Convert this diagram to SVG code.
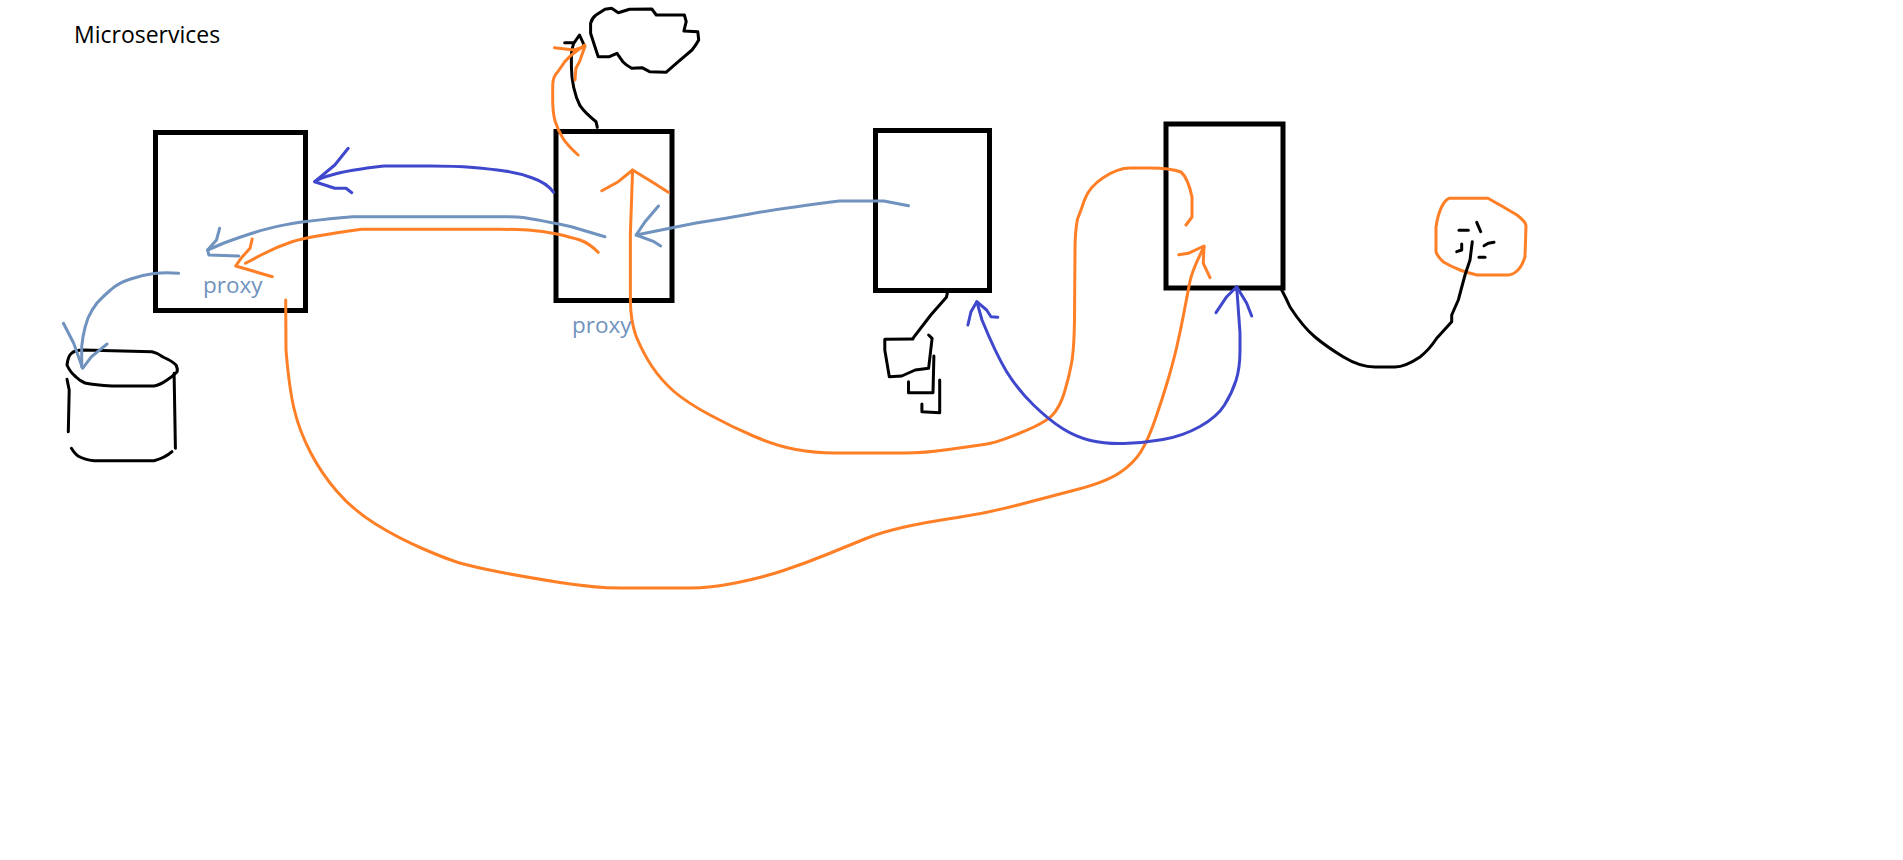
<svg xmlns="http://www.w3.org/2000/svg" width="1903" height="860" viewBox="0 0 1903 860">
<style>
.box{fill:none;stroke:#000;stroke-width:5}
.k,.o,.i,.s{fill:none;stroke-linecap:round;stroke-linejoin:round;stroke-width:3}
.k{stroke:#000}
.o{stroke:#ff7f27}
.i{stroke:#3f48cc}
.s{stroke:#7092be}
.t{font-family:"Open Sans","Noto Sans",sans-serif}
</style>
<rect width="1903" height="860" fill="#fff"/>
<text id="title" class="t" x="74" y="42.5" font-size="23" fill="#000">Microservices</text>
<g id="service-1"><rect class="box" x="155.5" y="132.5" width="150" height="178"/><text class="t" x="203" y="293" font-size="22.5" fill="#7092be">proxy</text></g>
<g id="service-2"><rect class="box" x="556" y="131.5" width="116" height="169"/><text class="t" x="572" y="333" font-size="22.5" fill="#7092be">proxy</text></g>
<g id="service-3"><rect class="box" x="875.5" y="130.5" width="114" height="160"/></g>
<g id="service-4"><rect class="box" x="1166" y="124" width="117" height="164"/></g>
<g id="cloud"><path class="k" d="M590.6 33.3 L590.6 23.3 Q592 18 596 15 L605 9.3 L611.6 8.3 L618.3 12.7 L629.5 9.3 L651.8 9 L656.3 15 L684.4 15 L686.2 21.7 L683.9 31 L697.8 31.7 L698.7 40 Q696 45 692 50 L676.3 63.3 L666 72.3 L649.6 71.7 L642 67.7 L631.7 68.3 Q626 65 622.8 61.7 L617 53.3 L609.4 56.7 L598.2 56.7 L593.8 43.3 Z"/></g>
<g id="database">
<path class="k" d="M67 365 Q68 356 71.4 353.3 Q75 350 83 350 L152 351.7 Q158 353 163 357 Q172 361 176 365 Q178 369 177 372 Q172 377 167 380 Q160 385 154 386 L112 386 Q95 385 85 383 Q80 381 76 377 Q70 372 67 365 Z"/>
<path class="k" d="M67 379.3 L69.2 390 L68.3 431.7"/>
<path class="k" d="M174.1 373.3 L175.4 448.3"/>
<path class="k" d="M71.4 448.3 Q75 454 78 456 Q85 460 94 460.7 L154 460.7 Q165 458 172 451.7"/>
</g>
<g id="documents">
<path class="k" d="M912.9 339 L884.8 339.3 L884.8 350 L889.3 376.7 L901.8 376 L915.2 370 L928.6 368.3 L932.1 338.3 L928.6 335"/>
<path class="k" d="M933.9 356 L933 392.7 L908.5 392.7 L908.5 381.7"/>
<path class="k" d="M939.7 380 L939.7 412.7 L921.9 411.7 L921.9 404"/>
</g>
<g id="client">
<path class="o" d="M1449 198.3 L1488 198.3 Q1496 203 1503 206.7 L1517 215 Q1526 222 1526 226 L1525 256.7 Q1522 266 1518 270 Q1513 275 1508 275 L1477 275 Q1468 273 1460 270 Q1450 266 1443 261.7 Q1437 256 1436 251.7 L1436 226.7 Q1438 214 1441.7 206.7 Q1445 200 1449 198.3 Z"/>
<path class="k" d="M1459 230.3 L1468.3 230.3"/>
<path class="k" d="M1476.7 222.3 L1480.7 231.7"/>
<path class="k" d="M1484 245.7 L1488.3 243.3 L1494 242.3"/>
<path class="k" d="M1479 257.3 L1485 257.3"/>
<path class="k" d="M1461.7 244 L1461.7 250 L1456.7 251.7"/>
</g>
<g id="connectors">
<path class="k" d="M597.3 127.3 L596 121.7 Q585 113 580 105.7 Q576 98 573.7 87.5 Q571.4 77 571.4 66.7 L571.4 56.7 Q571 50 573.7 43.3 L579.5 35 L584.8 46.7"/>
<path class="k" d="M564.7 42.7 L573.7 42.7"/>
<path class="o" d="M578.1 155 Q567 145 562.5 137.5 Q558 130 555.3 121.7 Q552.7 113 552.7 100 L552.7 86.7 Q552.7 79 555.3 75 Q558 71.7 562.5 65 Q567 58 576 51.5 L584.8 45"/>
<path class="o" d="M554.5 47.7 L573.7 50 L584.8 46.7 L579.5 61.7 L575.9 68.3 L575 80"/>
<path class="i" d="M553.6 192.3 Q547 183 532.5 178 Q518 172.7 504.5 171 Q491 169 473 167.5 Q455 166 430 166 L384 166 Q348 170 331.5 175 Q320 178 314.7 181.7"/>
<path class="i" d="M348.2 148.3 L334.8 165 L314.7 181.7 L334.8 188.3 L346 188.3 L351.8 192.7"/>
<path class="s" d="M604.9 236.7 L571.4 226.7 Q529 217.7 517 217 L504.5 216.7 L352.7 216.7 Q303.6 221 286 224.6 Q268 228 254.5 232.5 Q241 236.7 224 243 L207.6 250"/>
<path class="s" d="M219.6 228.3 L216.5 240 L207.6 250 L208.9 255 L238.8 256"/>
<path class="o" d="M598.2 252.3 Q589.3 243.3 580 240 Q571.4 237.3 557 234 Q542.4 231 528 230 Q513 229.3 500 229.3 L361.6 229.3 Q308 236.7 292 241.7 Q276.8 246.7 261 255 L245.5 263.3"/>
<path class="o" d="M252.2 239 L250 248.3 L241 258.3 L235.7 266 L272.3 276.7"/>
<path class="s" d="M178.6 273.3 Q165 272 154 273.6 Q143 275 130.6 279 Q118 283 110.5 290 Q102.7 296.7 97 303 Q91.5 310 88 318 Q84.8 326.7 83 336.7 L81.7 346.7 L81.7 366.7"/>
<path class="s" d="M63.4 323.3 L73.7 343.3 L82.6 368.3 L91.5 356.7 L107.1 344"/>
<path class="o" d="M285.7 300 L286 350 Q289 387 294 408.5 Q299 430 310 451.5 Q321 473 337 491.5 Q353 510 375.5 524 Q398 538 423.5 549 Q449 560 461.5 563.5 Q474 567 499.5 572 Q525 577 560 582.5 Q595 588 620 588 L690 588 Q710 588 735.5 583 Q761 578 783.5 570.5 Q806 563 828 554 Q850 545 866 538.5 Q882 532 904.5 527 Q927 522 957.5 517.5 Q988 513 1018 505 Q1048 497 1077 489.5 Q1106 482 1120 472.5 Q1134 463 1141 451.5 Q1148 440 1155 420 Q1162 400 1167.5 381.5 Q1173 363 1176.5 348 Q1180 333 1183.5 315 Q1187 297 1189.5 283.5 Q1192 270 1204 247"/>
<path class="o" d="M1178.7 254.7 L1188.3 253.3 L1204 246 L1203.3 263.3 L1210 277.7"/>
<path class="o" d="M632.6 170 L630.4 233 L630.4 300 Q630.4 320 636 336 Q643 353 652 366.5 Q661 380 674 391.5 Q687.5 403 710 415 Q732 427 754.5 436.5 Q777 446 796 449.5 Q815 453 835 453 L905 453 Q924 453 948.5 449.5 Q973 446 984 444.5 Q995.5 443 1020 433 Q1045 423 1052.5 415 Q1060 407 1064.5 392 Q1069 377 1071.5 363.5 Q1074 350 1074.5 320 L1075 250 Q1075 232 1077.5 219 Q1080 213 1084.5 200 Q1089 187 1103.5 177.5 Q1118 168 1130 168 L1150 168 Q1170 168 1181 172 Q1188 178 1192 197 L1192 217 L1186 225"/>
<path class="o" d="M601.8 190.7 L618.3 181.7 L632.6 170 L651.8 181.7 L668.3 192.3"/>
<path class="s" d="M908.5 205.7 L883.9 201 L839.3 201 Q776.8 209 750 214 Q723 219 696 223 L636.2 235"/>
<path class="s" d="M658.5 206 L645.1 221.7 L636.2 235 L654 241.7 L660.7 246"/>
<path class="k" d="M947.3 293.3 L946.4 297.3 L930.8 315 L912.9 338.3"/>
<path class="i" d="M976.8 301.7 L982 320 Q995.5 353 1006.5 371.5 Q1018 390 1033.5 405 Q1049 420 1062.5 428.5 Q1076 437 1090.5 440.5 Q1105 444 1124 443.5 Q1143 443 1163 439.5 Q1183 436 1200 426.5 Q1217 417 1224.5 405 Q1232 393 1236 380.5 Q1240 368 1240 350 L1240 333 L1236.7 287"/>
<path class="i" d="M1216 312.7 L1226.7 296.7 L1236.7 286.7 L1246.7 303.3 L1251.7 316"/>
<path class="i" d="M967.9 325 L971 311.7 L976.8 301.7 L986.6 310 L991 316.7 L997.8 317.3"/>
<path class="k" d="M1281.7 290 Q1286 298 1290 307 Q1303 327 1315 337 Q1327 347 1343.5 357 Q1360 367 1375 367 L1395 367 Q1405 367 1420 357 Q1429 350 1436.7 338.3 L1451.7 321.7 L1451.7 315 L1458.3 300 L1465 275 L1470 260 L1472.3 241.7"/>
</g>
</svg>
